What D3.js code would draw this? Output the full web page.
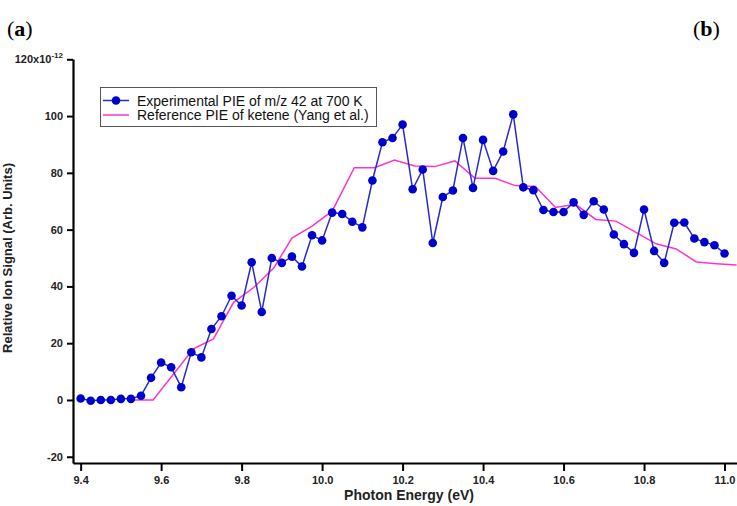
<!DOCTYPE html>
<html>
<head>
<meta charset="utf-8">
<script src="https://cdn.jsdelivr.net/npm/d3@7"></script>
<style>
  body { margin: 0; background: #fff; }
  svg { display: block; }
</style>
</head>
<body>
<div id="chart"></div>
<script>
const width = 737;
const height = 506;

// experimental PIE, m/z 42 at 700 K (0.025 eV step)
const expEnergy = [
  9.400, 9.425, 9.450, 9.475, 9.500, 9.525, 9.550, 9.575, 9.600, 9.625,
  9.650, 9.675, 9.700, 9.725, 9.750, 9.775, 9.800, 9.825, 9.850, 9.875,
  9.900, 9.925, 9.950, 9.975, 10.000, 10.025, 10.050, 10.075, 10.100, 10.125,
  10.150, 10.175, 10.200, 10.225, 10.250, 10.275, 10.300, 10.325, 10.350, 10.375,
  10.400, 10.425, 10.450, 10.475, 10.500, 10.525, 10.550, 10.575, 10.600, 10.625,
  10.650, 10.675, 10.700, 10.725, 10.750, 10.775, 10.800, 10.825, 10.850, 10.875,
  10.900, 10.925, 10.950, 10.975, 11.000
];
const expSignal = [
  0.5, -0.3, 0, 0, 0.4, 0.4, 1.5, 7.8, 13.2, 11.5,
  4.5, 16.8, 15, 25, 29.5, 36.7, 33.3, 48.5, 31, 50,
  48.3, 50.5, 47, 58, 56.2, 66, 65.5, 62.8, 60.8, 77.3,
  90.8, 92.3, 97, 74.2, 81.2, 55.3, 71.5, 73.8, 92.3, 74.7,
  91.6, 80.7, 87.5, 100.6, 74.9, 73.9, 66.9, 66.2, 66.2, 69.6,
  65.2, 70, 67.1, 58.3, 54.9, 51.8, 67.1, 52.5, 48.3, 62.4,
  62.5, 56.9, 55.6, 54.5, 51.6
];

// reference PIE of ketene (Yang et al.)
const refEnergy = [
  9.53, 9.58, 9.63, 9.68, 9.73, 9.78, 9.83, 9.88, 9.925, 9.975,
  10.025, 10.08, 10.13, 10.18, 10.23, 10.28, 10.33, 10.38, 10.43, 10.48,
  10.53, 10.58, 10.63, 10.68, 10.73, 10.78, 10.83, 10.88, 10.93, 10.98, 11.03
];
const refSignal = [
  0, 0, 9, 18, 21.5, 34.4, 39.6, 46.5, 57, 61.2,
  66.5, 81.8, 81.8, 84.5, 82.4, 82.2, 84.2, 78.1, 78.1, 75.5,
  75.2, 67.8, 68.9, 63.6, 63, 59, 55, 53.2, 48.6, 48, 47.5
];

const xTicks = [9.4, 9.6, 9.8, 10.0, 10.2, 10.4, 10.6, 10.8, 11.0];
const yTicks = [-20, 0, 20, 40, 60, 80, 100, 120];

const svg = d3.select("#chart")
  .append("svg")
  .attr("width", width)
  .attr("height", height)
  .style("font-family", "Arial, 'Liberation Sans', sans-serif");

const x = d3.scaleLinear().domain([9.381, 11.031]).range([73, 737]);
const y = d3.scaleLinear().domain([-22.2, 120.1]).range([463, 59]);

// axes
const xAxis = svg.append("g")
  .attr("transform", "translate(0,463)")
  .call(d3.axisBottom(x).tickValues(xTicks).tickSize(8).tickSizeOuter(0).tickPadding(5)
    .tickFormat(d3.format(".1f")));

const yAxis = svg.append("g")
  .attr("transform", "translate(73,0)")
  .call(d3.axisLeft(y).tickValues(yTicks).tickSize(6).tickSizeOuter(0).tickPadding(4)
    .tickFormat(d => d === 120 ? "" : d));

[xAxis, yAxis].forEach(g => {
  g.select(".domain").attr("stroke", "#000").attr("stroke-width", 2.2);
  g.selectAll(".tick line").attr("stroke", "#000").attr("stroke-width", 2);
  g.selectAll(".tick text")
    .attr("fill", "#222")
    .style("font-size", "11px")
    .style("font-weight", "bold")
    .style("font-family", "Arial, 'Liberation Sans', sans-serif");
});

// 120x10^-12 top label
const topLabel = yAxis.selectAll(".tick").filter(d => d === 120).select("text");
topLabel.append("tspan").text("120x10");
topLabel.append("tspan").attr("dy", -5).style("font-size", "8px").text("-12");

// reference line
const line = d3.line().x(d => x(d[0])).y(d => y(d[1]));
svg.append("path")
  .datum(refEnergy.map((e, i) => [e, refSignal[i]]))
  .attr("fill", "none")
  .attr("stroke", "#ff33cc")
  .attr("stroke-width", 1.5)
  .attr("d", line);

// experimental line + markers
const expData = expEnergy.map((e, i) => [e, expSignal[i]]);
svg.append("path")
  .datum(expData)
  .attr("fill", "none")
  .attr("stroke", "#2a2acc")
  .attr("stroke-width", 1.5)
  .attr("d", line);

svg.selectAll("circle.pt")
  .data(expData)
  .enter()
  .append("circle")
  .attr("class", "pt")
  .attr("cx", d => x(d[0]))
  .attr("cy", d => y(d[1]))
  .attr("r", 4.3)
  .attr("fill", "#0000cc");

// axis titles
svg.append("text")
  .attr("x", 409)
  .attr("y", 500)
  .attr("text-anchor", "middle")
  .style("font-size", "14px")
  .style("font-weight", "bold")
  .attr("fill", "#222")
  .text("Photon Energy (eV)");

svg.append("text")
  .attr("transform", "translate(12,258) rotate(-90)")
  .attr("text-anchor", "middle")
  .style("font-size", "13px")
  .style("font-weight", "bold")
  .attr("fill", "#222")
  .text("Relative Ion Signal (Arb. Units)");

// legend
const legend = svg.append("g");
legend.append("rect")
  .attr("x", 100.5).attr("y", 87.5)
  .attr("width", 276).attr("height", 39)
  .attr("fill", "#fff")
  .attr("stroke", "#555")
  .attr("stroke-width", 1);
legend.append("line")
  .attr("x1", 103).attr("x2", 129).attr("y1", 100.5).attr("y2", 100.5)
  .attr("stroke", "#2a2acc").attr("stroke-width", 1.5);
legend.append("circle")
  .attr("cx", 116).attr("cy", 100.5).attr("r", 4.3).attr("fill", "#0000cc");
legend.append("line")
  .attr("x1", 103).attr("x2", 129).attr("y1", 115).attr("y2", 115)
  .attr("stroke", "#ff33cc").attr("stroke-width", 1.5);
legend.append("text")
  .attr("x", 137).attr("y", 105.5)
  .style("font-size", "14px").attr("fill", "#111")
  .text("Experimental PIE of m/z 42 at 700 K");
legend.append("text")
  .attr("x", 137).attr("y", 120)
  .style("font-size", "14px").attr("fill", "#111")
  .text("Reference PIE of ketene (Yang et al.)");

// panel letters
function panelLetter(px, letter) {
  const t = svg.append("text")
    .attr("x", px).attr("y", 36)
    .style("font-family", "'Liberation Serif', 'DejaVu Serif', serif")
    .style("font-size", "22px");
  t.append("tspan").text("(");
  t.append("tspan").style("font-weight", "bold").text(letter);
  t.append("tspan").text(")");
}
panelLetter(7, "a");
panelLetter(693, "b");
</script>
</body>
</html>
